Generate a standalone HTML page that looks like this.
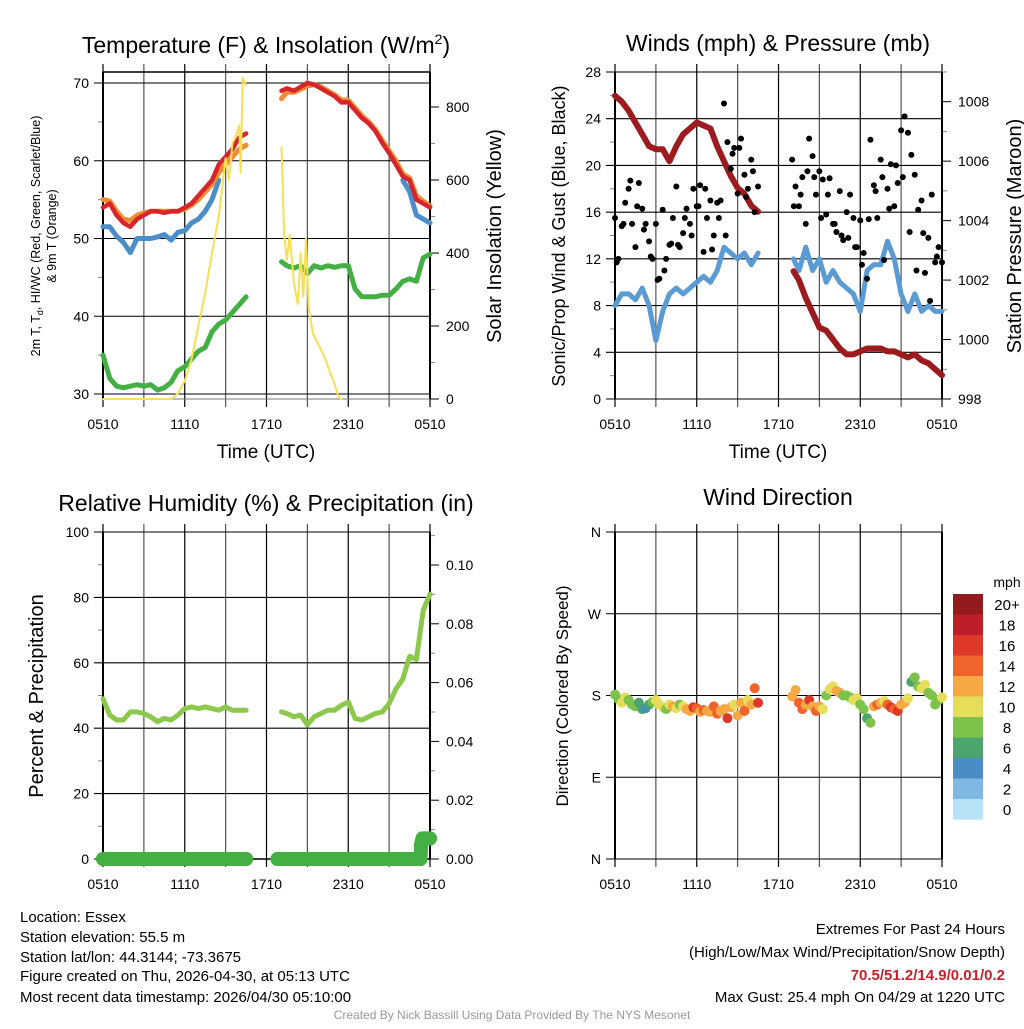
<!DOCTYPE html>
<html><head><meta charset="utf-8"><style>
html,body{margin:0;padding:0;background:#fff;}
svg text{font-family:"Liberation Sans",sans-serif;}
</style></head><body>
<svg id="s" width="1024" height="1024" viewBox="0 0 1024 1024" xmlns="http://www.w3.org/2000/svg">
<rect width="1024" height="1024" fill="#fff"/>
<text x="266" y="53" font-size="23" text-anchor="middle">Temperature (F) &amp; Insolation (W/m<tspan dy="-9" font-size="14">2</tspan><tspan dy="9">)</tspan></text>
<text x="778" y="51" font-size="23" text-anchor="middle">Winds (mph) &amp; Pressure (mb)</text>
<text x="266" y="511" font-size="23" text-anchor="middle">Relative Humidity (%) &amp; Precipitation (in)</text>
<text x="778" y="505" font-size="23" text-anchor="middle">Wind Direction</text>

<text x="266" y="458" font-size="19" text-anchor="middle">Time (UTC)</text>
<text x="778" y="458" font-size="19" text-anchor="middle">Time (UTC)</text>
<text transform="translate(40,236) rotate(-90)" font-size="12.5" text-anchor="middle">2m T, T<tspan font-size="9" dy="3">d</tspan><tspan dy="-3">, HI/WC (Red, Green, Scarlet/Blue)</tspan></text>
<text transform="translate(56,236) rotate(-90)" font-size="12.5" text-anchor="middle">&amp; 9m T (Orange)</text>
<text transform="translate(501,236) rotate(-90)" font-size="20" text-anchor="middle">Solar Insolation (Yellow)</text>
<text transform="translate(565,236) rotate(-90)" font-size="18" text-anchor="middle">Sonic/Prop Wind &amp; Gust (Blue, Black)</text>
<text transform="translate(1021,236) rotate(-90)" font-size="20" text-anchor="middle">Station Pressure (Maroon)</text>
<text transform="translate(43,696) rotate(-90)" font-size="20" text-anchor="middle">Percent &amp; Precipitation</text>
<text transform="translate(568,696) rotate(-90)" font-size="17" text-anchor="middle">Direction (Colored By Speed)</text>

<g font-size="15">
<text x="20" y="922">Location: Essex</text>
<text x="20" y="942">Station elevation: 55.5 m</text>
<text x="20" y="962">Station lat/lon: 44.3144; -73.3675</text>
<text x="20" y="981">Figure created on Thu, 2026-04-30, at 05:13 UTC</text>
<text x="20" y="1002">Most recent data timestamp: 2026/04/30 05:10:00</text>
</g>
<g font-size="15" text-anchor="end">
<text x="1005" y="934">Extremes For Past 24 Hours</text>
<text x="1005" y="957">(High/Low/Max Wind/Precipitation/Snow Depth)</text>
<text x="1005" y="980" fill="#c8202a" font-weight="bold">70.5/51.2/14.9/0.01/0.2</text>
<text x="1005" y="1002">Max Gust: 25.4 mph On 04/29 at 1220 UTC</text>
</g>
<text x="512" y="1019" font-size="12" fill="#999" text-anchor="middle">Created By Nick Bassill Using Data Provided By The NYS Mesonet</text>
<g id="g"></g>
</svg>
<script>
// ---- data (hours since 0510 UTC) ----
const timeTickLabels=["0510","1110","1710","2310","0510"];
const tempTimes=[0,0.5,1,1.5,2,2.5,3,3.5,4,4.5,5,5.5,6,6.5,7,7.5,8,8.5,9,9.5,10,10.5,13.1,13.5,14,14.5,15,15.5,16,16.5,17,17.5,18,18.5,19,19.5,20,20.5,21,21.5,22,22.5,23,23.5,24];
const tempRed=[54,54.5,53,52,51.5,52.5,53,53.5,53.5,53.3,53.5,53.5,54,54.5,55.5,56.5,57.5,59.5,60.5,61.5,63,63.5,69,69.3,69,69.5,70,69.8,69.3,68.8,68.3,67.5,67.5,66.5,65.5,64.8,63.8,62.3,61,59.5,58,57.5,55,54.5,54];
const temp9m=[55,54.8,53.5,52.5,52.3,53,53.3,53.5,53.5,53.5,53.5,53.5,53.8,54.3,55,56,57,58.5,59.5,60.5,61.5,62,68,68.8,68.8,69.2,69.6,69.8,69.5,69,68.5,67.8,67.8,66.8,65.8,65,64,62.6,61.3,60,58.3,57.8,55.5,54.8,54.2];
const windChill=[51.5,51.5,50.3,49.5,48.2,50,50,50,50.2,50.5,49.8,50.8,51,52,52.5,53.5,55,57.5,null,null,null,null,null,null,null,null,null,null,null,null,null,null,null,null,null,null,null,null,null,null,57.5,56,53,52.5,52];
const dewPoint=[35,32,31,30.8,31,31.2,31,31.2,30.5,30.8,31.5,33,33.5,34.5,35.5,36,38,39,39.5,40.5,41.5,42.5,47,46.5,46.2,46.5,45.5,46.5,46.2,46.5,46.3,46.5,46.5,43.5,42.5,42.5,42.5,42.7,42.7,43.5,44.5,44.8,44.5,47.5,48];
const solarTimes=[0,1,2,3,4,5,5.5,6,6.5,7,7.5,8,8.5,9,9.25,9.5,9.75,10,10.1,10.25,10.5,13.1,13.3,13.5,13.7,14,14.3,14.5,14.7,14.9,15.1,15.4,15.8,16.2,16.6,17,17.3,17.5,20,24];
const solarVals=[0,0,0,0,0,0,15,50,110,200,290,400,500,660,600,700,720,750,620,880,860,690,450,380,450,320,260,400,280,440,250,180,150,120,80,40,5,0,0,0];
const windTimes=tempTimes;
const windSpeed=[8,9,9,8.5,9.5,8,5,7.5,9,9.5,9,9.5,10,10.5,10,11,13,12.5,12,12.5,11.5,12.5,12,11,13,11,12,10,11,10,9.5,9,7.5,11,11.5,11.5,13.5,12,9,7.5,9,7.5,8,7.5,7.5];
const pressure=[1008.2,1008,1007.7,1007.3,1006.9,1006.5,1006.4,1006.4,1006,1006.5,1006.9,1007.1,1007.3,1007.2,1007.1,1006.5,1006,1005.5,1005.1,1004.9,1004.5,1004.3,1002.3,1002,1001.4,1000.9,1000.4,1000.3,1000,999.7,999.5,999.5,999.6,999.7,999.7,999.7,999.6,999.6,999.5,999.4,999.5,999.3,999.2,999,998.8];
const gustTimes=[0,0.25,0.5,0.75,1,1.25,1.5,1.75,2,2.25,2.5,2.75,3,3.25,3.5,3.75,4,4.25,4.5,4.75,5,5.25,5.5,5.75,6,6.25,6.5,6.75,7,7.25,7.5,7.75,8,8.25,8.5,8.75,9,9.25,9.5,9.75,10,10.25,10.5,13,13.25,13.5,13.75,14,14.25,14.5,14.75,15,15.25,15.5,15.75,16,16.25,16.5,16.75,17,17.25,17.5,17.75,18,18.25,18.5,18.75,19,19.25,19.5,19.75,20,20.25,20.5,20.75,21,21.25,21.5,21.75,22,22.25,22.5,22.75,23,23.25,23.5,23.75,24];
const gustVals=[15.5,12,14.8,16.8,18,15,13,18.5,16.3,15,13.5,12,15,10.3,16.2,12,13.2,15.5,18.2,13,14.2,16.3,15,18,16.5,18.3,12.6,15.5,17,14,16.8,17,25.3,22,19.7,21.5,17.6,22.3,19.2,18,20.5,16,18.2,20.5,18.2,16.5,19,15,22.3,20.8,17.5,19.5,18.8,15.8,18.9,15,14.3,17.8,13.6,16,17.5,15.5,13,15.3,12.5,10.3,22.2,18.3,15.5,20.5,11.9,18,20.1,16.5,18.5,23,24.2,22.8,20.9,19.2,16.2,17,10.8,13.8,17.5,11.7,13,11.7];
const gustTimes2=[0.125,0.625,1.125,1.625,2.125,2.625,3.125,3.625,4.125,4.625,5.125,5.625,6.125,6.625,7.125,7.625,8.125,8.625,9.125,9.625,10.125,13.125,13.625,14.125,14.625,15.125,15.625,16.125,16.625,17.125,17.625,18.125,18.625,19.125,19.625,20.125,20.625,21.125,21.625,22.125,22.625,23.125,23.625];
const gustVals2=[11.7,15,18.7,16.5,14.5,12.2,10.2,11,13.3,13.2,15.5,14,16.5,18,12.8,15.5,14,21,21.5,17.3,19.5,16.5,17.5,19.5,19,15.5,17.5,15,14,13.8,13,11.5,15.4,17.8,19,16.3,20,19,14.3,11,14.2,8.4,12.2];
const rhVals=[49,44,42.5,42.5,45,45,44.5,43.5,42,43,42.5,44,46,46.5,46,46.5,46,45.5,46.5,45.5,45.5,45.5,45,44.5,43.5,44,41,43.5,44.5,45.5,45.5,47,48,43,42.5,43.5,44.5,45,47.5,52,55,62,61,76,81];
const precipTimes=[0,0.5,1,1.5,2,2.5,3,3.5,4,4.5,5,5.5,6,6.5,7,7.5,8,8.5,9,9.5,10,10.5,12.8,13.3,13.8,14.3,14.8,15.3,15.8,16.3,16.8,17.3,17.8,18.3,18.8,19.3,19.8,20.3,20.8,21.3,21.8,22.3,22.8,23.3,23.35,23.45,23.6,23.8,24];
const precipVals=[0,0,0,0,0,0,0,0,0,0,0,0,0,0,0,0,0,0,0,0,0,0,0,0,0,0,0,0,0,0,0,0,0,0,0,0,0,0,0,0,0,0,0,0,0.005,0.007,0.007,0.007,0.007];
const dirTimes=gustTimes;
const dirVals=[181,176,172,178,175,170,168,172,165,166,170,173,175,170,167,165,170,168,166,170,168,165,163,167,166,162,164,163,162,168,160,163,165,155,167,170,158,172,163,175,170,188,172,179,186,172,165,170,175,168,163,168,165,180,187,190,185,183,180,180,178,175,177,170,165,155,150,168,170,172,174,170,167,165,163,170,172,177,195,200,190,188,192,183,180,170,175,178];
const dirSpeeds=[7,8,9,10,8,7,8,6,5,4,6,8,9,10,9,8,10,11,9,8,10,12,11,15,14,12,13,12,11,13,14,12,11,15,12,10,11,12,13,10,12,13,15,12,11,14,13,12,15,12,13,12,10,7,10,10,11,12,8,7,8,9,10,8,7,6,7,12,13,11,10,13,15,14,16,12,12,10,6,8,7,9,10,8,7,8,7,9];
const speedLabels=["20+","18","16","14","12","10","8","6","4","2","0"];
const speedColors=["#931a1d","#bd1e2a","#de3829","#f0632b","#f6a843","#e6de58","#7dc24a","#4aa56f","#488dc6","#7fb9e3","#b6e3f7"];

const NS="http://www.w3.org/2000/svg";
const G=document.getElementById('g');
function mk(tag,attrs,parent){const e=document.createElementNS(NS,tag);for(const k in attrs)e.setAttribute(k,attrs[k]);(parent||G).appendChild(e);return e;}
function txt(x,y,s,size,anchor,parent){const e=mk('text',{x:x,y:y,'font-size':size,'text-anchor':anchor},parent);e.textContent=s;return e;}
const W=327;
function xf(x0){return t=>x0+t/24*W;}
function lin(v0,v1,p0,p1){return v=>p0+(v-v0)/(v1-v0)*(p1-p0);}

function frame(x0,yT,yB,hTicks,hLabels,yMap,minor,rTicks,rLabels,rMap,rMinor,name){
  const g=mk('g',{});
  
  
  const X=xf(x0);
  for(let h=0;h<=24;h+=3){mk('line',{x1:X(h),x2:X(h),y1:yT-8,y2:yB+8,stroke:(h%6==0)?'#000':'#555','stroke-width':1.2},g);}
  hTicks.forEach((v,i)=>{const y=yMap(v);mk('line',{x1:x0-9,x2:x0+W,y1:y,y2:y,stroke:'#000','stroke-width':1.1},g);txt(x0-14,y+5,hLabels[i],14,'end',g);});
  minor.forEach(v=>{const y=yMap(v);mk('line',{x1:x0-5,x2:x0,y1:y,y2:y,stroke:'#888'},g);});
  if(rTicks){rTicks.forEach((v,i)=>{const y=rMap(v);mk('line',{x1:x0+W,x2:x0+W+9,y1:y,y2:y,stroke:'#000'},g);txt(x0+W+16,y+5,rLabels[i],14,'start',g);});
    rMinor.forEach(v=>{const y=rMap(v);mk('line',{x1:x0+W,x2:x0+W+5,y1:y,y2:y,stroke:'#888'},g);});}
  mk('line',{x1:x0,x2:x0,y1:yT,y2:yB,stroke:'#000','stroke-width':2},g);
  mk('line',{x1:x0+W,x2:x0+W,y1:yT,y2:yB,stroke:'#000','stroke-width':2},g);
  timeTickLabels.forEach((s,i)=>txt(X(i*6),yB+30,s,14,'middle',g));
  return X;
}
function series(times,vals,X,Y,color,width,name){
  let d='',pen=false,prev=null;
  times.forEach((t,i)=>{const v=vals[i];if(v===null||v===undefined){pen=false;return;}
    if(prev!==null&&t-prev>1.5)pen=false;
    d+=(pen?'L':'M')+X(t).toFixed(1)+' '+Y(v).toFixed(1);pen=true;prev=t;});
  const p=mk('path',{d:d,fill:'none',stroke:color,'stroke-width':width,'stroke-linejoin':'round','stroke-linecap':'round'});
  
  
}
function dots(times,vals,X,Y,r,colorFn,name){
  const g=mk('g',{});
  
  
  times.forEach((t,i)=>{mk('circle',{cx:X(t),cy:Y(vals[i]),r:r,fill:colorFn(i)},g);});
}

// Panel 1
const T1=lin(30,70,394,83), S1=lin(0,800,399,107);
const X1=frame(103,72,399,[30,40,50,60,70],["30","40","50","60","70"],T1,[35,45,55,65],[0,200,400,600,800],["0","200","400","600","800"],S1,[100,300,500,700,900].filter(v=>S1(v)>72),'temperature');
mk('line',{x1:103,x2:430,y1:72,y2:72,stroke:'#000','stroke-width':1.5});
mk('line',{x1:103,x2:430,y1:399,y2:399,stroke:'#777','stroke-width':1});
series(tempTimes,windChill,X1,T1,'#4a8fca',5,'wind-chill-line');
series(tempTimes,dewPoint,X1,T1,'#44b044',5,'dewpoint-line');
series(tempTimes,temp9m,X1,T1,'#f28c33',5,'temp-9m-line');
series(tempTimes,tempRed,X1,T1,'#d7262b',4.5,'temp-2m-line');
series(solarTimes,solarVals,X1,S1,'#f7e054',2,'solar-line');

// Panel 2
const W2=lin(0,28,399,72), P2=lin(998,1008,399,101.7);
const X2=frame(615,72,399,[0,4,8,12,16,20,24,28],["0","4","8","12","16","20","24","28"],W2,[2,6,10,14,18,22,26],[998,1000,1002,1004,1006,1008],["998","1000","1002","1004","1006","1008"],P2,[999,1001,1003,1005,1007,1009],'winds');
series(windTimes,windSpeed,X2,W2,'#5b9bd3',5,'wind-speed-line');
series(windTimes,pressure,X2,P2,'#9b1b1e',6,'pressure-line');
dots(gustTimes,gustVals,X2,W2,3,()=>'#000','gust-dots');
dots(gustTimes2,gustVals2,X2,W2,3,()=>'#000','gust-dots-extra');

// Panel 3
const R3=lin(0,100,859,532), Q3=lin(0,0.1,859,565);
const X3=frame(103,532,859,[0,20,40,60,80,100],["0","20","40","60","80","100"],R3,[10,30,50,70,90],[0,0.02,0.04,0.06,0.08,0.1],["0.00","0.02","0.04","0.06","0.08","0.10"],Q3,[0.01,0.03,0.05,0.07,0.09,0.11],'humidity');
mk('line',{x1:103,x2:430,y1:859,y2:859,stroke:'#000','stroke-width':1.5});
series(tempTimes,rhVals,X3,R3,'#8cc84b',5,'rh-line');
dots(precipTimes,precipVals,X3,Q3,7,()=>'#44b044','precip-dots');
series(precipTimes,precipVals,X3,Q3,'#44b044',14,'precip-line');

// Panel 4
const D4=lin(0,360,859,532);
const X4=frame(615,532,859,[0,90,180,270,360],["N","E","S","W","N"],D4,[],null,null,null,null,'direction');
function spColor(s){let idx=Math.round(s/2);if(idx>10)idx=10;return speedColors[10-idx];}
dots(dirTimes,dirVals,X4,D4,5,i=>spColor(dirSpeeds[i]),'direction-dots');

// Legend
const lg=mk('g',{});


txt(1007,587,'mph',14,'middle',lg);
speedLabels.forEach((s,i)=>{const y=594+i*20.5;mk('rect',{x:953,y:y,width:30,height:20.6,fill:speedColors[i]},lg);txt(1007,y+16,s,15,'middle',lg);});
</script>
</body></html>
